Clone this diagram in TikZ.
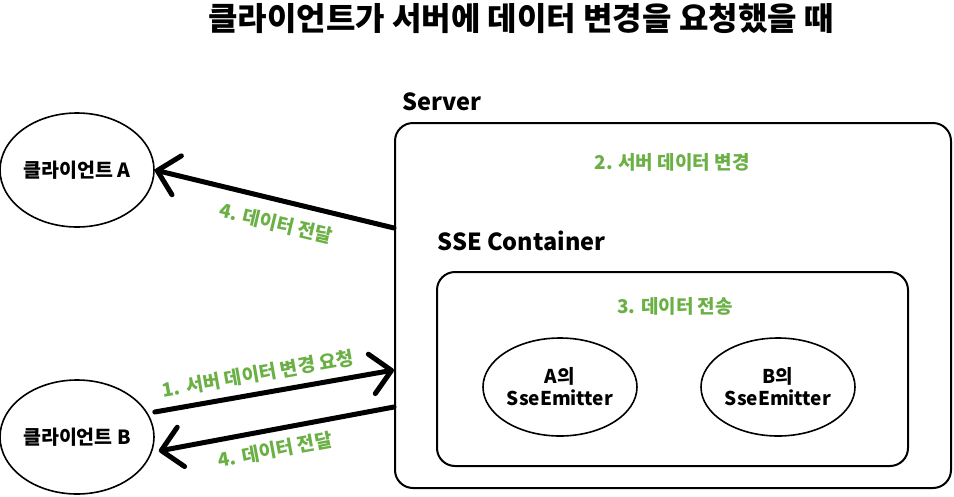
\documentclass[tikz,border=0pt]{standalone}
\usepackage{fontspec}
\setmainfont{Noto Sans CJK KR}
\usetikzlibrary{shapes.geometric,arrows.meta}
\definecolor{msggreen}{RGB}{106,176,69}
\begin{document}
\begin{tikzpicture}[x=1pt,y=-1pt,
    client/.style={draw,ellipse,line width=1.6pt,minimum width=154pt,minimum height=114pt,
      inner sep=0pt,font=\bfseries\fontsize{19.5}{23}\selectfont},
    emitter/.style={draw,ellipse,line width=1.6pt,minimum width=154pt,minimum height=98pt,
      inner sep=0pt,align=center,font=\bfseries\fontsize{19}{22}\selectfont},
    box/.style={draw,rectangle,rounded corners=18pt,line width=2pt,inner sep=0pt},
    head/.style={font=\bfseries\fontsize{23.5}{28}\selectfont,anchor=west},
    msg/.style={text=msggreen,font=\bfseries\fontsize{19}{22}\selectfont},
    flow/.style={line width=5pt,line cap=round,-{Straight Barb[length=20pt,width=40pt,round]}}]
  \useasboundingbox (0,0) rectangle (954,496);

  \node[font=\bfseries\fontsize{32}{38}\selectfont] (title) at (521,19)
    {클라이언트가 서버에 데이터 변경을 요청했을 때};

  % clients
  \node[client] (clientA) at (77,170) {클라이언트 A};
  \node[client] (clientB) at (77,437) {클라이언트 B};

  % server and container
  \node[box,minimum width=556pt,minimum height=365pt] (server) at (673,305.5) {};
  \node[head] (serverlbl) at (399,102) {Server};
  \node[msg] (change) at (672,162) {2. 서버 데이터 변경};
  \node[head] (containerlbl) at (434,241) {SSE Container};
  \node[box,minimum width=471pt,minimum height=194pt] (container) at (672.5,369) {};
  \node[msg] (send) at (675,306) {3. 데이터 전송};

  \foreach \n\x in {A/560,B/778}{
    \node[emitter] (emitter\n) at (\x,387) {{\n}의\\SseEmitter};
  }

  % connectors
  \coordinate (sA) at ([yshift=77.5pt]server.west);
  \coordinate (sIn) at ([yshift=-64.5pt]server.west);
  \coordinate (sOut) at ([yshift=-101.5pt]server.west);
  \draw[flow] (sA) -- (clientA.east);
  \draw[flow] ([yshift=25pt]clientB.east) -- (sIn);
  \draw[flow] (sOut) -- ([shift={(4pt,-14pt)}]clientB.east);

  \node[msg,rotate=-13.4] (sendA) at (276,223) {4. 데이터 전달};
  \node[msg,rotate=10] (request) at (258,374) {1. 서버 데이터 변경 요청};
  \node[msg,rotate=10.5] (sendB) at (275,450) {4. 데이터 전달};
\end{tikzpicture}
\end{document}
